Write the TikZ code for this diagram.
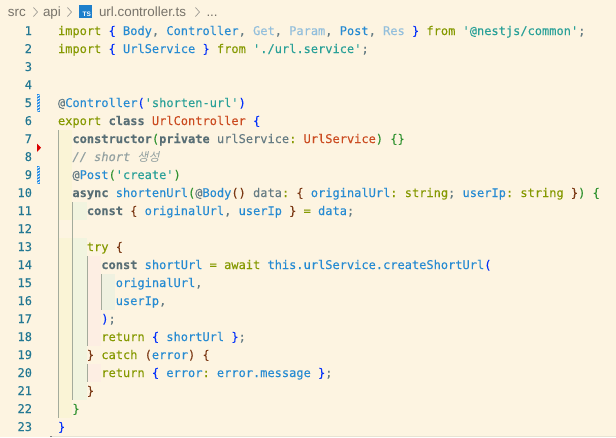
\documentclass[tikz,border=0pt]{standalone}
\usepackage{fontspec}
\setmainfont{Liberation Sans}
\newfontfamily\codefont[FakeBold=0.12]{DejaVu Sans Mono}
\newfontfamily\krfont[FakeSlant=0.2]{Noto Sans CJK KR}
\definecolor{bgc}{HTML}{FDF4E1}
\definecolor{kwc}{HTML}{859900}
\definecolor{idc}{HTML}{268BD2}
\definecolor{strc}{HTML}{2AA198}
\definecolor{clsc}{HTML}{CB4B20}
\definecolor{plainc}{HTML}{657B83}
\definecolor{boldc}{HTML}{586E75}
\definecolor{cmtc}{HTML}{93A1A1}
\definecolor{fadec}{HTML}{93BFDC}
\definecolor{brA}{HTML}{0431FA}
\definecolor{brB}{HTML}{319331}
\definecolor{brC}{HTML}{7B3814}
\definecolor{numc}{HTML}{237893}
\definecolor{crumbc}{HTML}{77736A}
\definecolor{guidec}{HTML}{A4AB9C}
\definecolor{rainA}{HTML}{FAF4D6}
\definecolor{rainB}{HTML}{F1F4DF}
\definecolor{rainC}{HTML}{FDEEE3}
\definecolor{rainD}{HTML}{EFF1E0}
\definecolor{tsblue}{HTML}{1E7FCB}
\definecolor{hatchc}{HTML}{1E88E5}
\definecolor{rulec}{HTML}{E8E3D3}
\newcommand{\Kw}[1]{\textcolor{kwc}{#1}}
\newcommand{\Id}[1]{\textcolor{idc}{#1}}
\newcommand{\St}[1]{\textcolor{strc}{#1}}
\newcommand{\Cl}[1]{\textcolor{clsc}{#1}}
\newcommand{\Pl}[1]{\textcolor{plainc}{#1}}
\newcommand{\Bd}[1]{\textcolor{boldc}{\bfseries #1}}
\newcommand{\Fd}[1]{\textcolor{fadec}{#1}}
\newcommand{\Ba}[1]{\textcolor{brA}{#1}}
\newcommand{\Bb}[1]{\textcolor{brB}{#1}}
\newcommand{\Bc}[1]{\textcolor{brC}{#1}}
\tikzset{
  codeline/.style={anchor=base west,inner sep=0pt,outer sep=0pt,font=\codefont\fontsize{12}{14}\selectfont\frenchspacing,text=plainc},
  linenum/.style={anchor=base east,inner sep=0pt,outer sep=0pt,font=\codefont\fontsize{12}{14}\selectfont,text=numc},
  crumb/.style={anchor=base west,inner sep=0pt,outer sep=0pt,font=\fontsize{13.4}{15}\selectfont,text=crumbc},
  crumbsep/.style={draw=crumbc!70,line width=0.7pt,line cap=round,line join=round},
  guide/.style={draw=guidec,line width=0.8pt},
}
\newcommand{\hatchbar}[1]{%
  \fill[hatchc] (37,#1) rectangle (40,#1+18);
  \foreach \k in {0,3,...,15}{\draw[white!60!bgc,line width=0.8pt] (37,#1+\k+2.4) -- (40,#1+\k+0.6);}
}
\begin{document}
\begin{tikzpicture}[x=1pt,y=-1pt]
\useasboundingbox (0,0) rectangle (616,437);
\fill[bgc] (0,0) rectangle (616,437);
% indentation bands
\fill[rainA] (59,130) rectangle (72,220);
\fill[rainA] (59,238) rectangle (72,418);
\fill[rainB] (73,202) rectangle (87,220);
\fill[rainB] (73,238) rectangle (87,400);
\fill[rainC] (88,256) rectangle (101,346);
\fill[rainC] (88,364) rectangle (101,382);
\fill[rainD] (102,274) rectangle (115,310);
% indentation guides
\draw[guide] (58.5,130) -- (58.5,418);
\draw[guide] (72.5,202) -- (72.5,400);
\draw[guide] (87.5,256) -- (87.5,346);
\draw[guide] (87.5,364) -- (87.5,382);
\draw[guide] (101.5,274) -- (101.5,310);
% bottom rule
\draw[draw=rulec,line width=1pt] (50,436.5) -- (616,436.5);
\fill[gray] (49.5,436) rectangle (51.5,437);
% gutter marks
\hatchbar{94}
\hatchbar{166}
\fill[red!85!black] (37,143.5) -- (41,147.7) -- (37,152) -- cycle;
% breadcrumb
\node[crumb] (cSrc) at (8,16) {src};
\draw[crumbsep] (33.5,7.5) -- (37.5,12) -- (33.5,16.5);
\node[crumb] (cApi) at (43,16) {api};
\draw[crumbsep] (67.5,7.5) -- (71.5,12) -- (67.5,16.5);
\fill[tsblue] (79,5) rectangle (92,18);
\node[anchor=base,inner sep=0pt,text=white,font=\bfseries\fontsize{6.5}{7}\selectfont] (cTs) at (86.8,16.5) {TS};
\node[crumb] (cFile) at (99,16) {url.controller.ts};
\draw[crumbsep] (195.5,7.5) -- (199.5,12) -- (195.5,16.5);
\node[crumb] (cDots) at (206.5,16) {...};
% line numbers
\foreach \n in {1,...,23}{
  \node[linenum] (n\n) at (32,35+18*\n-18) {\n};
}
% code
\node[codeline] (l1) at (58,35) {\Kw{import} \Ba{\{} \Id{Body}, \Id{Controller}, \Fd{Get}, \Fd{Param}, \Id{Post}, \Fd{Res} \Ba{\}} \Kw{from} \St{'@nestjs/common'};};
\node[codeline] (l2) at (58,53) {\Kw{import} \Ba{\{} \Id{UrlService} \Ba{\}} \Kw{from} \St{'./url.service'};};
\node[codeline] (l5) at (58,107) {@\Id{Controller}\Ba{(}\St{'shorten-url'}\Ba{)}};
\node[codeline] (l6) at (58,125) {\Kw{export} \Bd{class} \Cl{UrlController} \Ba{\{}};
\node[codeline] (l7) at (72.44,143) {\Bd{constructor}\Bb{(}\Bd{private} \Pl{urlService}\Kw{:} \Cl{UrlService}\Bb{)} \Bb{\{\}}};
\node[codeline] (l8) at (72.44,161) {\textcolor{cmtc}{\itshape // short {\krfont 생성}}};
\node[codeline] (l9) at (72.44,179) {@\Id{Post}\Bb{(}\St{'create'}\Bb{)}};
\node[codeline] (l10) at (72.44,197) {\Bd{async} \Id{shortenUrl}\Bb{(}@\Id{Body}\Bc{()} \Pl{data}\Kw{:} \Bc{\{} \Id{originalUrl}\Kw{:} \Kw{string}; \Id{userIp}\Kw{:} \Kw{string} \Bc{\}}\Bb{)} \Bb{\{}};
\node[codeline] (l11) at (86.88,215) {\Bd{const} \Bc{\{} \Id{originalUrl}, \Id{userIp} \Bc{\}} \Kw{=} \Id{data};};
\node[codeline] (l13) at (86.88,251) {\Kw{try} \Bc{\{}};
\node[codeline] (l14) at (101.32,269) {\Bd{const} \Id{shortUrl} \Kw{=} \Kw{await} \Id{this.urlService.createShortUrl}\Ba{(}};
\node[codeline] (l15) at (115.76,287) {\Id{originalUrl},};
\node[codeline] (l16) at (115.76,305) {\Id{userIp},};
\node[codeline] (l17) at (101.32,323) {\Ba{)};};
\node[codeline] (l18) at (101.32,341) {\Kw{return} \Ba{\{} \Id{shortUrl} \Ba{\}};};
\node[codeline] (l19) at (86.88,359) {\Bc{\}} \Kw{catch} \Bc{(}\Id{error}\Bc{)} \Bc{\{}};
\node[codeline] (l20) at (101.32,377) {\Kw{return} \Ba{\{} \Id{error}\Kw{:} \Id{error.message} \Ba{\}};};
\node[codeline] (l21) at (86.88,395) {\Bc{\}}};
\node[codeline] (l22) at (72.44,413) {\Bb{\}}};
\node[codeline] (l23) at (58,431) {\Ba{\}}};
\end{tikzpicture}
\end{document}
